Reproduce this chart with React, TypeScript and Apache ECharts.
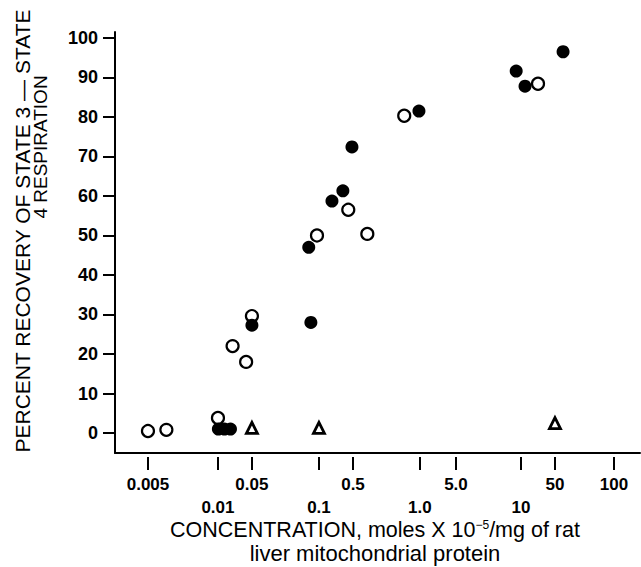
import React, { useEffect, useRef } from "react";
import * as echarts from "echarts";

// x axis: tick values (concentration) and their positions on the (hand-drawn) axis, in decade-like units
const TICK_VALUES = [0.005, 0.01, 0.05, 0.1, 0.5, 1, 5, 10, 50, 100];
const TICK_LABELS = ["0.005", "0.01", "0.05", "0.1", "0.5", "1.0", "5.0", "10", "50", "100"];
const TICK_POS = [-0.707, 0, 0.343, 1.02, 1.364, 2.04, 2.404, 3.061, 3.404, 4.0];
const LOWER_ROW = ["0.01", "0.1", "1.0", "10"];
const X_MIN = -1.04;
const X_MAX = 4.263;

const Y_TICKS = [0, 10, 20, 30, 40, 50, 60, 70, 80, 90, 100];
const Y_MIN = -5.06;
const Y_MAX = 101.5;

// open circles
const OPEN_X = [0.005, 0.006, 0.01, 0.02, 0.038, 0.05, 0.098, 0.4, 0.58, 0.85, 22.4];
const OPEN_Y = [0.5, 0.8, 3.8, 22, 18, 29.6, 50, 56.5, 50.4, 80.3, 88.4];
// filled circles
const FILLED_X = [0.0102, 0.0136, 0.0181, 0.05, 0.09, 0.092, 0.185, 0.31, 0.476, 0.99, 9.5, 12.1, 55];
const FILLED_Y = [1.0, 1.0, 1.0, 27.3, 47, 28, 58.7, 61.3, 72.4, 81.5, 91.6, 87.8, 96.5];
// triangles
const TRI_X = [0.05, 0.1, 50];
const TRI_Y = [1.3, 1.3, 2.5];

const FONT = "'Liberation Sans', Arial, Helvetica, sans-serif";

function toAxis(c: number): number {
  let i = 0;
  while (i < TICK_VALUES.length - 2 && c > TICK_VALUES[i + 1]) i++;
  const a = TICK_VALUES[i];
  const b = TICK_VALUES[i + 1];
  const t = Math.log(c / a) / Math.log(b / a);
  return TICK_POS[i] + t * (TICK_POS[i + 1] - TICK_POS[i]);
}

function pairs(xs: number[], ys: number[]) {
  return xs.map((x, i) => [toAxis(x), ys[i]]);
}

const UPPER_POS = TICK_POS.filter((_, i) => !LOWER_ROW.includes(TICK_LABELS[i]));
const LOWER_POS = TICK_POS.filter((_, i) => LOWER_ROW.includes(TICK_LABELS[i]));

export default function App() {
  const ref = useRef<HTMLDivElement>(null);
  useEffect(() => {
    if (!ref.current) return;
    const chart = echarts.init(ref.current, null, { renderer: "svg" });
    const labelFor = (v: number) => {
      const i = TICK_POS.findIndex((p) => Math.abs(p - v) < 1e-6);
      return i < 0 ? "" : TICK_LABELS[i];
    };
    const tickLabelStyle = {
      fontSize: 17,
      fontWeight: "bold",
      fontFamily: FONT,
      color: "#000",
    };
    const labelAxis = (values: number[], margin: number, withTicks: boolean) => ({
      type: "value",
      min: X_MIN,
      max: X_MAX,
      position: "bottom",
      offset: 4,
      axisLine: { show: false, onZero: false },
      axisTick: {
        show: withTicks,
        customValues: TICK_POS,
        length: 13,
        lineStyle: { color: "#000", width: 2 },
      },
      axisLabel: {
        show: true,
        customValues: values,
        formatter: labelFor,
        margin,
        verticalAlign: "top",
        ...tickLabelStyle,
      },
      splitLine: { show: false },
    });
    chart.setOption({
      animation: false,
      backgroundColor: "#fff",
      grid: { left: 115, right: 1, top: 32, bottom: 114, containLabel: false },
      xAxis: [
        {
          type: "value",
          min: X_MIN,
          max: X_MAX,
          position: "bottom",
          axisLine: { show: true, onZero: false, lineStyle: { color: "#000", width: 2 } },
          axisTick: { show: false },
          axisLabel: { show: false },
          splitLine: { show: false },
        },
        labelAxis(UPPER_POS, 19, true),
        labelAxis(LOWER_POS, 42, false),
      ],
      yAxis: {
        type: "value",
        min: Y_MIN,
        max: Y_MAX,
        axisLine: { show: true, onZero: false, lineStyle: { color: "#000", width: 2 } },
        axisTick: {
          show: true,
          customValues: Y_TICKS,
          length: 12,
          lineStyle: { color: "#000", width: 2 },
        },
        axisLabel: {
          show: true,
          customValues: Y_TICKS,
          margin: 17,
          ...tickLabelStyle,
          fontSize: 18,
        },
        splitLine: { show: false },
      },
      series: [
        {
          type: "scatter",
          name: "open",
          symbol: "circle",
          symbolSize: 12,
          itemStyle: { color: "#fff", borderColor: "#000", borderWidth: 2.2, opacity: 1 },
          data: pairs(OPEN_X, OPEN_Y),
          z: 2,
        },
        {
          type: "scatter",
          name: "filled",
          symbol: "circle",
          symbolSize: 13,
          itemStyle: { color: "#000", opacity: 1 },
          data: pairs(FILLED_X, FILLED_Y),
          z: 3,
        },
        {
          type: "scatter",
          name: "triangle",
          symbol: "triangle",
          symbolSize: 11,
          itemStyle: { color: "#fff", borderColor: "#000", borderWidth: 2.8, opacity: 1 },
          data: pairs(TRI_X, TRI_Y),
          z: 2,
        },
      ],
      graphic: [
        {
          type: "text",
          x: 22,
          y: 231,
          rotation: Math.PI / 2,
          style: {
            text: "PERCENT RECOVERY OF STATE 3 \u2014 STATE",
            fontSize: 21,
            fontFamily: FONT,
            fill: "#000",
            align: "center",
            verticalAlign: "middle",
          },
        },
        {
          type: "text",
          x: 40,
          y: 147,
          rotation: Math.PI / 2,
          style: {
            text: "4 RESPIRATION",
            fontSize: 19,
            fontFamily: FONT,
            fill: "#000",
            align: "center",
            verticalAlign: "middle",
          },
        },
        {
          type: "text",
          x: 375,
          y: 530,
          style: {
            text: "{a|CONCENTRATION, moles X 10}{s|\u22125}{a|/mg of rat}",
            rich: {
              a: { fontSize: 21.5, fontFamily: FONT, fill: "#000" },
              s: { fontSize: 12, fontFamily: FONT, fill: "#000", verticalAlign: "top" },
            },
            fontSize: 21.5,
            fontFamily: FONT,
            fill: "#000",
            align: "center",
            verticalAlign: "middle",
          },
        },
        {
          type: "text",
          x: 375,
          y: 553,
          style: {
            text: "liver mitochondrial protein",
            fontSize: 22,
            fontFamily: FONT,
            fill: "#000",
            align: "center",
            verticalAlign: "middle",
          },
        },
      ],
    });
    return () => chart.dispose();
  }, []);
  return (
    <div
      ref={ref}
      style={{ position: "absolute", left: 0, top: 0, width: 641, height: 567, background: "#fff" }}
    />
  );
}
